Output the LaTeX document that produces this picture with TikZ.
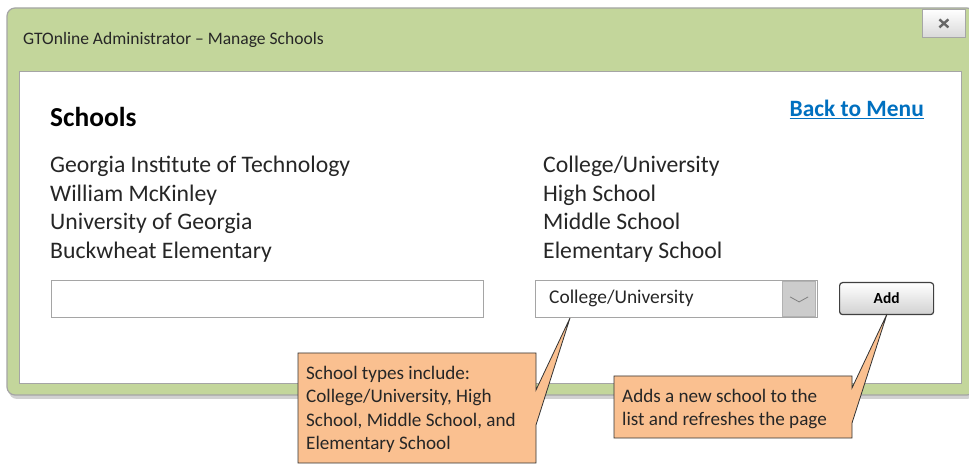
\documentclass[tikz,border=0pt]{standalone}
\usepackage{fontspec}
\setmainfont{Carlito}
\usetikzlibrary{calc,shadows}
\definecolor{wingreen}{HTML}{C3D69B}
\definecolor{winborder}{HTML}{A5A5A5}
\definecolor{calloutfill}{HTML}{FAC090}
\definecolor{linkblue}{HTML}{0070C0}
\definecolor{txt}{HTML}{262626}
\tikzset{
  winframe/.style={draw=winborder, line width=1.2bp, fill=wingreen, rounded corners=8bp},
  panel/.style={draw=winborder, line width=1bp, fill=white},
  inputbox/.style={draw=winborder, line width=1bp, fill=white},
  listtext/.style={anchor=base west, inner sep=0pt, font=\fontsize{23.8}{28}\selectfont, text=txt},
  callout/.style={draw=black!80, line width=0.8bp, fill=calloutfill},
  callouttext/.style={anchor=north west, inner sep=0pt, align=left, font=\fontsize{19.2}{23.4}\selectfont, text=txt},
  btn/.style={draw=black!75, line width=1.2bp, rounded corners=3bp, top color=white, bottom color=black!18},
}
\begin{document}
\begin{tikzpicture}[x=1bp,y=-1bp]
\useasboundingbox (0,0) rectangle (969,465);
% shadow
\fill[black!18, rounded corners=8bp] (9,12) rectangle (975,399);
% window
\draw[winframe] (7,8) rectangle (975,395);
\node[anchor=base west, inner sep=0pt, font=\fontsize{17.6}{20}\selectfont, text=txt] (title) at (23,45) {GTOnline Administrator -- Manage Schools};
% close button
\node[draw=black!35, line width=0.8bp, top color=white, bottom color=black!15, minimum width=43bp, minimum height=28bp, inner sep=0pt, anchor=north west] (close) at (922,9) {};
\draw[black!60, line width=2.4bp] ($(close.center)+(-4.5,-4)$) -- ($(close.center)+(4.5,4)$);
\draw[black!60, line width=2.4bp] ($(close.center)+(-4.5,4)$) -- ($(close.center)+(4.5,-4)$);
% panel
\draw[panel] (19,72) rectangle (961,384);
\node[anchor=base west, inner sep=0pt, font=\bfseries\fontsize{27.5}{30}\selectfont, text=black] (heading) at (50,127) {Schools};
\node[anchor=base east, inner sep=0pt, font=\bfseries\fontsize{23.5}{26}\selectfont, text=linkblue] (back) at (924,117) {\underline{Back to Menu}};
% list
\node[listtext] (s1) at (50,173) {Georgia Institute of Technology};
\node[listtext] (s2) at (50,201.5) {William McKinley};
\node[listtext] (s3) at (50,230) {University of Georgia};
\node[listtext] (s4) at (50,258.5) {Buckwheat Elementary};
\node[listtext] (t1) at (543,173) {College/University};
\node[listtext] (t2) at (543,201.5) {High School};
\node[listtext] (t3) at (543,230) {Middle School};
\node[listtext] (t4) at (543,258.5) {Elementary School};
% inputs
\node[inputbox, anchor=north west, minimum width=432bp, minimum height=37bp, inner sep=0pt] (name) at (51,280) {};
\node[inputbox, anchor=north west, minimum width=282bp, minimum height=37bp, inner sep=0pt] (drop) at (535,280) {};
\node[anchor=base west, inner sep=0pt, font=\fontsize{19.5}{22}\selectfont, text=txt] (droptext) at (549,304) {College/University};
\node[draw=black!30, line width=0.8bp, fill=black!20, anchor=north east, minimum width=33bp, minimum height=35bp, inner sep=0pt] (dropbtn) at (816,281) {};
\draw[black!50, line width=0.8bp] ($(dropbtn.center)+(-9,-2)$) -- ($(dropbtn.center)+(0,3)$) -- ($(dropbtn.center)+(9,-2)$);
\node[btn, anchor=north west, minimum width=94bp, minimum height=32bp, inner sep=0pt, font=\bfseries\fontsize{15.5}{17}\selectfont] (add) at (839,282) {Add};
% callout 1
\coordinate (tip1) at (570,318);
\coordinate (b1a) at (536,390);
\coordinate (b1b) at (536,425);
\draw[callout] (298,353) -- (536,353) -- (b1a) -- (tip1) -- (b1b) -- (536,463) -- (298,463) -- cycle;
\node[callouttext] (c1) at (306,366) {School types include:\\College/University, High\\School, Middle School, and\\Elementary School};
% callout 2
\coordinate (tip2) at (887,314);
\coordinate (b2a) at (852,388);
\coordinate (b2b) at (852,423);
\draw[callout] (614,376) -- (852,376) -- (b2a) -- (tip2) -- (b2b) -- (852,438) -- (614,438) -- cycle;
\node[callouttext] (c2) at (622,389) {Adds a new school to the\\list and refreshes the page};
\end{tikzpicture}
\end{document}
